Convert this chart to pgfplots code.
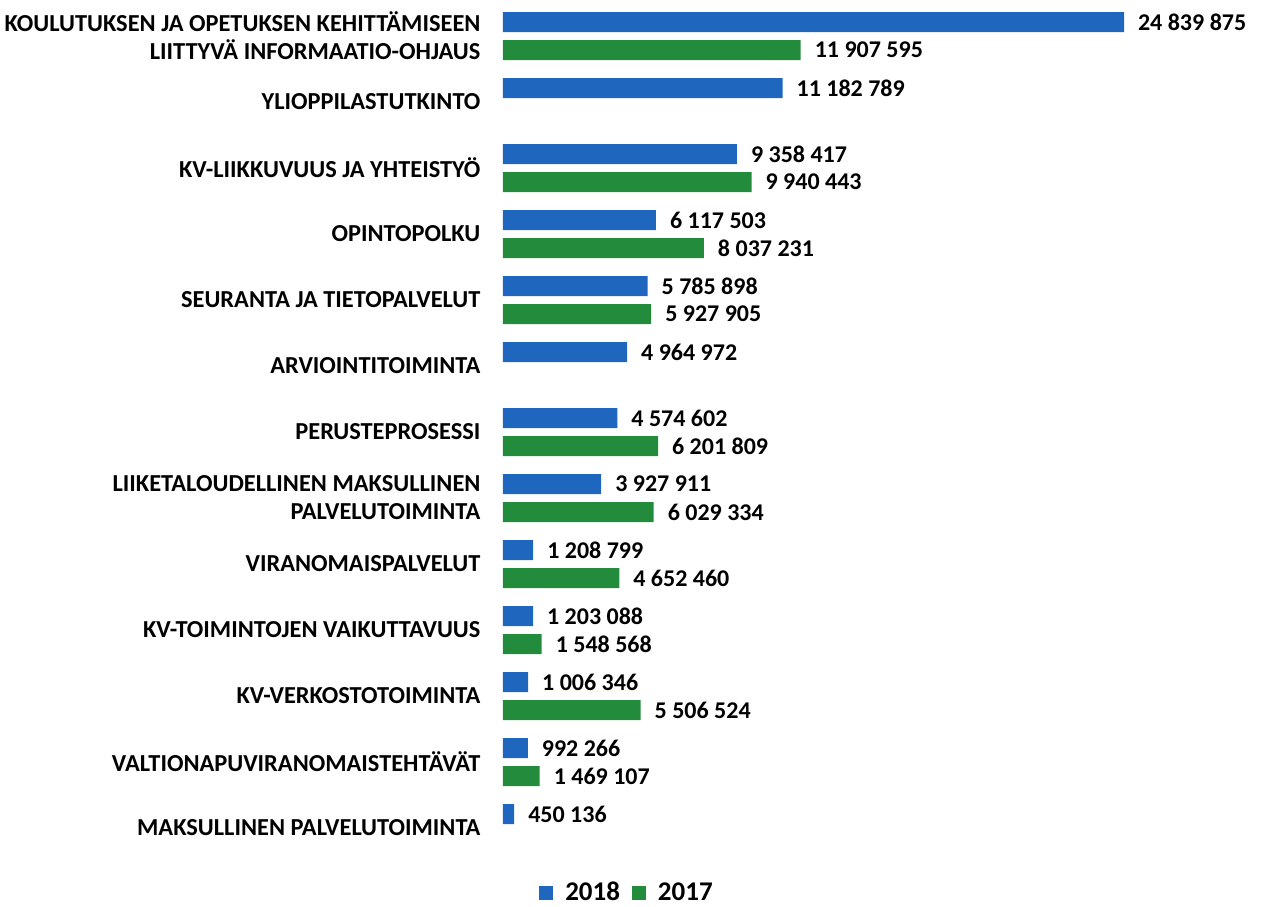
\documentclass[border=0pt]{standalone}
\usepackage{fontspec}
\setmainfont{Carlito}
\usepackage{pgfplots}
\pgfplotsset{compat=1.18}
\definecolor{blue18}{RGB}{31,102,190}
\definecolor{green17}{RGB}{35,140,60}
\begin{document}
\begin{tikzpicture}
\begin{axis}[
  xbar, scale only axis, width=312.5pt, height=429pt,
  xmin=0, xmax=25000000, ymin=-0.5, ymax=12.5, y dir=reverse,
  axis line style={draw=none}, tick style={draw=none}, xtick=\empty,
  ytick={0,...,12},
  yticklabels={{KOULUTUKSEN JA OPETUKSEN KEHITTÄMISEEN\\LIITTYVÄ INFORMAATIO-OHJAUS},
    {YLIOPPILASTUTKINTO},
    {KV-LIIKKUVUUS JA YHTEISTYÖ},
    {OPINTOPOLKU},
    {SEURANTA JA TIETOPALVELUT},
    {ARVIOINTITOIMINTA},
    {PERUSTEPROSESSI},
    {LIIKETALOUDELLINEN MAKSULLINEN\\PALVELUTOIMINTA},
    {VIRANOMAISPALVELUT},
    {KV-TOIMINTOJEN VAIKUTTAVUUS},
    {KV-VERKOSTOTOIMINTA},
    {VALTIONAPUVIRANOMAISTEHTÄVÄT},
    {MAKSULLINEN PALVELUTOIMINTA}},
  yticklabel style={align=right, xshift=-3.5pt, font=\fontsize{12.2}{14}\selectfont\bfseries},
  bar width=10pt,
  point meta=explicit symbolic,
  nodes near coords,
  nodes near coords style={font=\fontsize{12}{14}\selectfont\bfseries, anchor=west, xshift=3.5pt},
  clip=false,
  legend columns=2,
  legend style={draw=none, at={(axis description cs:0.2,-0.037)}, anchor=center,
    font=\fontsize{13.5}{15}\selectfont\bfseries, column sep=4pt},
  legend image code/.code={\fill (0pt,-3.5pt) rectangle (7pt,3.5pt);},
]
\addplot[fill=blue18, draw=none, bar shift=7pt] coordinates {
  (24839875,0) [24 839 875]
  (11182789,1) [11 182 789]
  (9358417,2) [9 358 417]
  (6117503,3) [6 117 503]
  (5785898,4) [5 785 898]
  (4964972,5) [4 964 972]
  (4574602,6) [4 574 602]
  (3927911,7) [3 927 911]
  (1208799,8) [1 208 799]
  (1203088,9) [1 203 088]
  (1006346,10) [1 006 346]
  (992266,11) [992 266]
  (450136,12) [450 136]
};
\addplot[fill=green17, draw=none, bar shift=-7pt] coordinates {
  (11907595,0) [11 907 595]
  (9940443,2) [9 940 443]
  (8037231,3) [8 037 231]
  (5927905,4) [5 927 905]
  (6201809,6) [6 201 809]
  (6029334,7) [6 029 334]
  (4652460,8) [4 652 460]
  (1548568,9) [1 548 568]
  (5506524,10) [5 506 524]
  (1469107,11) [1 469 107]
};
\legend{2018,2017}
\end{axis}
\pgfresetboundingbox
\useasboundingbox (-251.5pt,-22.5pt) rectangle (379.5pt,430.5pt);
\end{tikzpicture}
\end{document}
